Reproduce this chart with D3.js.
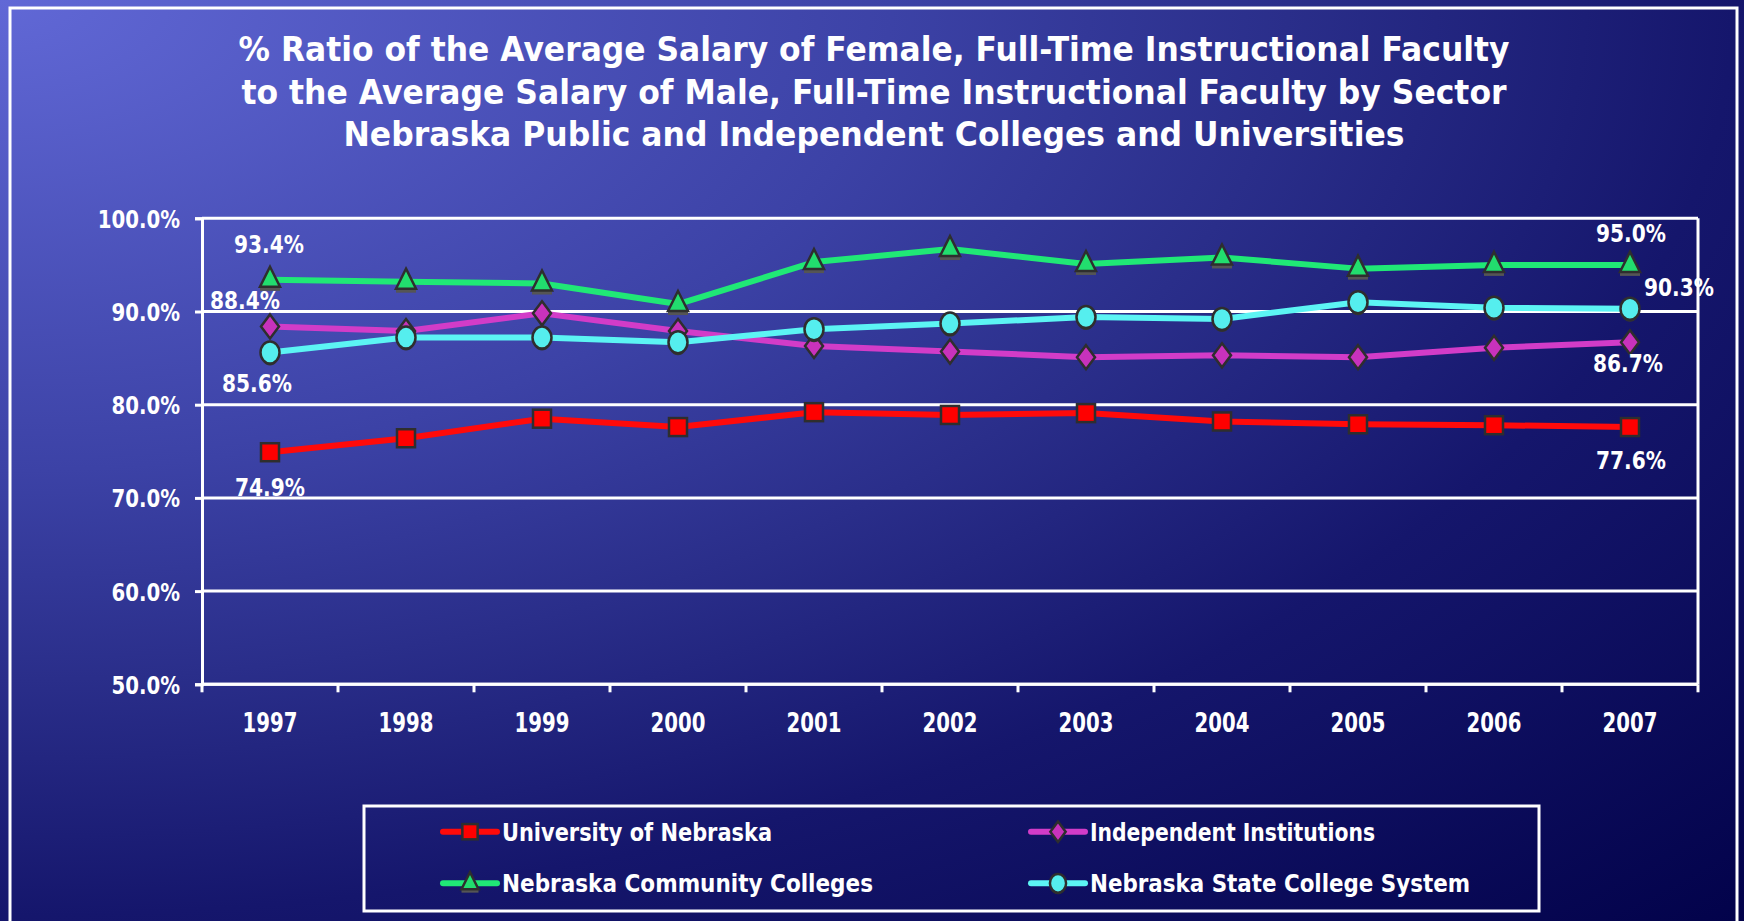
<!DOCTYPE html>
<html>
<head>
<meta charset="utf-8">
<script src="https://cdn.jsdelivr.net/npm/d3@7"></script>
<style>
  body { margin: 0; overflow: hidden; background: #0a0a50; }
  text { font-family: "DejaVu Sans", sans-serif; font-weight: bold; fill: #fff; }
</style>
</head>
<body>
<div id="chart"></div>
<script>
// values
const years = [1997, 1998, 1999, 2000, 2001, 2002, 2003, 2004, 2005, 2006, 2007];
const univNebraska = [74.9, 76.4, 78.5, 77.6, 79.2, 78.9, 79.1, 78.2, 77.9, 77.8, 77.6];
const independent = [88.4, 87.9, 89.8, 87.9, 86.3, 85.7, 85.1, 85.3, 85.1, 86.1, 86.7];
const communityColleges = [93.4, 93.2, 93.0, 90.8, 95.3, 96.7, 95.1, 95.8, 94.6, 95.0, 95.0];
const stateColleges = [85.6, 87.2, 87.2, 86.7, 88.1, 88.7, 89.4, 89.2, 91.0, 90.4, 90.3];
const seriesNames = ['University of Nebraska', 'Independent Institutions', 'Nebraska Community Colleges', 'Nebraska State College System'];
const yTicks = [50, 60, 70, 80, 90, 100];
const titleLines = [
    '% Ratio of the Average Salary of Female, Full-Time Instructional Faculty',
    'to the Average Salary of Male, Full-Time Instructional Faculty by Sector',
    'Nebraska Public and Independent Colleges and Universities'
];

const width = 1744;
const height = 921;
const plot = { left: 202, right: 1698, top: 218.3, bottom: 684.3 };

const series = [
    { name: seriesNames[0], values: univNebraska, color: '#ff0a0a', fill: '#ff0000', shape: 'square',
      labels: [[0, 0, 35], [10, 1, 33]] },
    { name: seriesNames[1], values: independent, color: '#d23cc8', fill: '#c832bc', shape: 'diamond',
      labels: [[0, -25, -26], [10, -2, 21]] },
    { name: seriesNames[2], values: communityColleges, color: '#20e876', fill: '#22dd6e', shape: 'triangle',
      labels: [[0, -1, -35], [10, 1, -32]] },
    { name: seriesNames[3], values: stateColleges, color: '#5cf4f4', fill: '#55eeee', shape: 'circle',
      labels: [[0, -13, 31], [10, 49, -21]] }
];

const svg = d3.select('#chart')
    .append('svg')
    .attr('width', width)
    .attr('height', height);

// background gradient, light at top-left
const defs = svg.append('defs');
const grad = defs.append('radialGradient')
    .attr('id', 'bg')
    .attr('cx', 0).attr('cy', 0).attr('fx', 0).attr('fy', 0).attr('r', 1.42);
[[0, '#6168d6'], [0.36, '#3c42a6'], [0.52, '#2a2e8a'], [0.7, '#15166c'], [1, '#02024a']].forEach(s => {
    grad.append('stop').attr('offset', s[0]).attr('stop-color', s[1]);
});

svg.append('rect')
    .attr('width', width)
    .attr('height', height)
    .attr('fill', 'url(#bg)');

svg.append('rect')
    .attr('x', 10).attr('y', 8)
    .attr('width', 1727).attr('height', 940)
    .attr('fill', 'none')
    .attr('stroke', '#fff')
    .attr('stroke-width', 3);

// title
const titleWidths = [1271, 1265, 1061];
const titleBase = [61, 103.5, 146];
svg.selectAll('.title')
    .data(titleLines)
    .enter()
    .append('text')
    .attr('class', 'title')
    .attr('x', 874)
    .attr('y', (d, i) => titleBase[i])
    .attr('text-anchor', 'middle')
    .attr('font-size', 33)
    .attr('textLength', (d, i) => titleWidths[i])
    .attr('lengthAdjust', 'spacingAndGlyphs')
    .text(d => d);

// squeeze text horizontally, the reference font is condensed
function squeeze(sel, factor) {
    sel.each(function () {
        const w = this.getComputedTextLength();
        d3.select(this).attr('textLength', w * factor).attr('lengthAdjust', 'spacingAndGlyphs');
    });
}

const xScale = d3.scaleBand()
    .domain(years)
    .range([plot.left, plot.right]);

const yScale = d3.scaleLinear()
    .domain([50, 100])
    .range([plot.bottom, plot.top]);

const cx = yr => xScale(yr) + xScale.bandwidth() / 2;

// gridlines
svg.selectAll('.grid')
    .data(yTicks)
    .enter()
    .append('line')
    .attr('class', 'grid')
    .attr('x1', plot.left)
    .attr('x2', plot.right)
    .attr('y1', d => yScale(d))
    .attr('y2', d => yScale(d))
    .attr('stroke', '#fff')
    .attr('stroke-width', 3);

svg.append('line')
    .attr('x1', plot.right).attr('x2', plot.right)
    .attr('y1', plot.top).attr('y2', plot.bottom)
    .attr('stroke', '#fff')
    .attr('stroke-width', 3);

// y axis
const yAxis = d3.axisLeft(yScale)
    .tickValues(yTicks)
    .tickSize(7)
    .tickPadding(15)
    .tickFormat(d => d3.format('.1f')(d) + '%');

const yG = svg.append('g')
    .attr('transform', `translate(${plot.left}, 0)`)
    .attr('color', '#fff')
    .call(yAxis);
yG.select('.domain').attr('stroke-width', 3);
yG.selectAll('line').attr('stroke-width', 3);
yG.selectAll('text')
    .attr('font-size', 25)
    .attr('font-family', null)
    .attr('dy', '0.36em');
squeeze(yG.selectAll('text'), 0.79);

// x axis labels, ticks at category borders
const xAxis = d3.axisBottom(xScale).tickSize(0);
const xG = svg.append('g')
    .attr('transform', `translate(0, ${plot.bottom})`)
    .attr('color', '#fff')
    .call(xAxis);
xG.select('.domain').remove();
xG.selectAll('text')
    .attr('font-size', 27)
    .attr('y', 47.4)
    .attr('dy', 0);
squeeze(xG.selectAll('text'), 0.73);

svg.append('line')
    .attr('x1', plot.left).attr('x2', plot.right)
    .attr('y1', plot.bottom).attr('y2', plot.bottom)
    .attr('stroke', '#fff')
    .attr('stroke-width', 3);

const borders = years.map(y => xScale(y)).concat([xScale.range()[1]]);
svg.selectAll('.xtick')
    .data(borders)
    .enter()
    .append('line')
    .attr('class', 'xtick')
    .attr('x1', d => d).attr('x2', d => d)
    .attr('y1', plot.bottom).attr('y2', plot.bottom + 8)
    .attr('stroke', '#fff')
    .attr('stroke-width', 3);

// markers
function drawMarker(g, shape, fill, k) {
    const st = '#2e2e2e';
    if (shape === 'square') {
        g.append('rect')
            .attr('x', -9 * k).attr('y', -9 * k)
            .attr('width', 18 * k).attr('height', 18 * k)
            .attr('fill', fill).attr('stroke', st).attr('stroke-width', 2.5);
    } else if (shape === 'diamond') {
        g.append('path')
            .attr('d', `M0,${-12 * k}L${9 * k},0L0,${12 * k}L${-9 * k},0Z`)
            .attr('fill', fill).attr('stroke', st).attr('stroke-width', 2.5);
    } else if (shape === 'triangle') {
        g.append('rect')
            .attr('x', -10 * k).attr('y', 6 * k)
            .attr('width', 20 * k).attr('height', 5 * k)
            .attr('fill', '#555');
        g.append('path')
            .attr('d', `M0,${-13 * k}L${10 * k},${7 * k}L${-10 * k},${7 * k}Z`)
            .attr('fill', fill).attr('stroke', st).attr('stroke-width', 2.5);
    } else {
        g.append('ellipse')
            .attr('cx', 0).attr('cy', 2 * k)
            .attr('rx', 9 * k).attr('ry', 11 * k)
            .attr('fill', '#333');
        g.append('ellipse')
            .attr('rx', 9.5 * k).attr('ry', 11 * k)
            .attr('fill', fill).attr('stroke', st).attr('stroke-width', 2.5);
    }
}

const line = d3.line()
    .x((d, i) => cx(years[i]))
    .y(d => yScale(d));

series.forEach(s => {
    svg.append('path')
        .datum(s.values)
        .attr('d', line)
        .attr('fill', 'none')
        .attr('stroke', s.color)
        .attr('stroke-width', 6)
        .attr('stroke-linejoin', 'round');

    svg.selectAll(null)
        .data(s.values)
        .enter()
        .append('g')
        .attr('transform', (d, i) => `translate(${cx(years[i])}, ${yScale(d)})`)
        .each(function () { drawMarker(d3.select(this), s.shape, s.fill, 1); });
});

// end point value labels
series.forEach(s => {
    s.labels.forEach(([i, dx, dy]) => {
        const t = svg.append('text')
            .attr('x', cx(years[i]) + dx)
            .attr('y', yScale(s.values[i]) + dy)
            .attr('dy', '0.36em')
            .attr('text-anchor', 'middle')
            .attr('font-size', 24)
            .text(d3.format('.1f')(s.values[i]) + '%');
        squeeze(t, 0.84);
    });
});

// legend
svg.append('rect')
    .attr('x', 364).attr('y', 806)
    .attr('width', 1175).attr('height', 105)
    .attr('fill', 'none')
    .attr('stroke', '#fff')
    .attr('stroke-width', 3);

const legendPos = [[470, 831.7], [1058, 831.7], [470, 883.3], [1058, 883.3]];
const legendWidths = [270, 285, 371, 380];

series.forEach((s, i) => {
    const g = svg.append('g')
        .attr('transform', `translate(${legendPos[i][0]}, ${legendPos[i][1]})`);
    g.append('line')
        .attr('x1', -27).attr('x2', 27)
        .attr('stroke', s.color)
        .attr('stroke-width', 6)
        .attr('stroke-linecap', 'round');
    drawMarker(g.append('g'), s.shape, s.fill, 0.85);
    g.append('text')
        .attr('x', 32)
        .attr('dy', '0.36em')
        .attr('font-size', 25)
        .attr('textLength', legendWidths[i])
        .attr('lengthAdjust', 'spacingAndGlyphs')
        .text(s.name);
});
</script>
</body>
</html>
